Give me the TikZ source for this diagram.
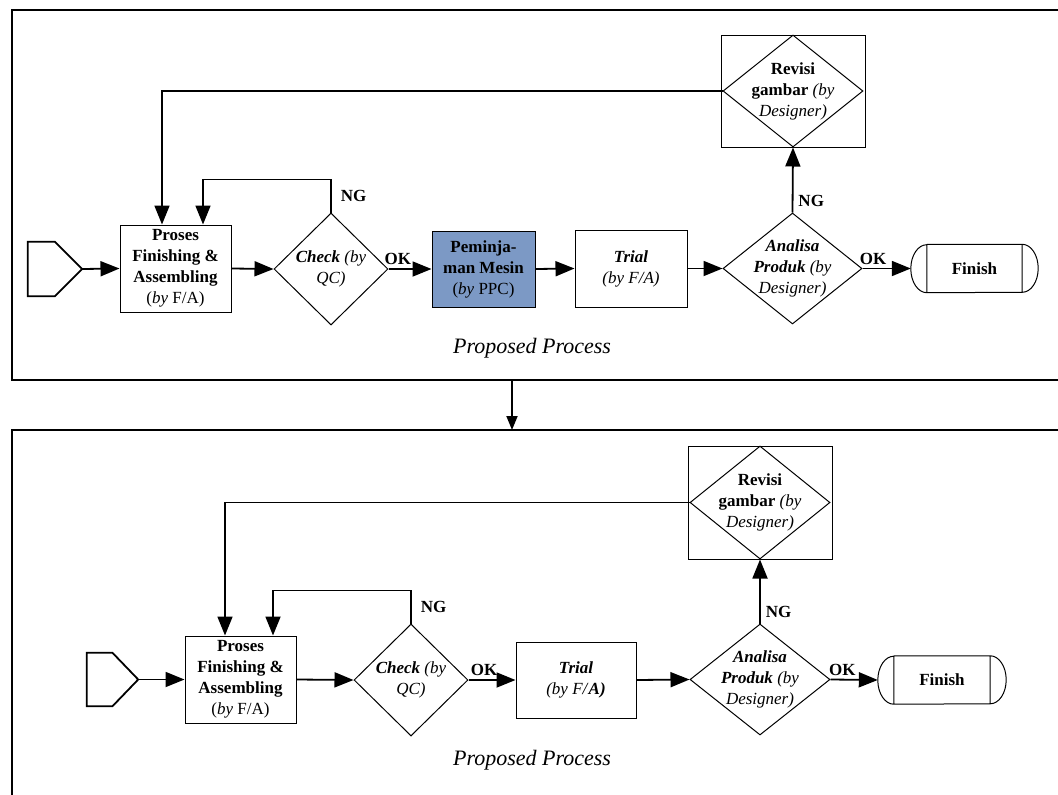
\documentclass[tikz,border=0pt]{standalone}
\usepackage{fontspec}
\setmainfont{Liberation Serif}
\usetikzlibrary{shapes.geometric,arrows.meta}
\definecolor{pmblue}{RGB}{124,153,197}

\begin{document}
\begin{tikzpicture}[x=1pt,y=-1pt,
  font=\fontsize{17}{21}\selectfont,
  box/.style={draw,line width=1pt,rectangle,inner sep=0pt,align=center},
  dec/.style={draw,line width=1pt,diamond,inner sep=0pt},
  dectxt/.style={align=center,inner sep=0pt},
  conn/.style={line width=1.8pt,-{Triangle[length=19pt,width=15pt]}},
  lbl/.style={font=\fontsize{17}{21}\selectfont\bfseries,inner sep=1pt},
  frame/.style={line width=2pt}]
  \useasboundingbox (0,0) rectangle (1058,795);

  % frames
  \draw[frame] (1058,10) -- (12,10) -- (12,380) -- (1058,380);
  \draw[frame] (1058,430) -- (12,430) -- (12,795);
  \coordinate (tp) at (512,380);
  \coordinate (bt) at (512,430);
  \draw[line width=1.8pt,-{Triangle[length=14pt,width=11pt]}] (tp) -- (bt);

  % upper process
  \node[inner sep=0pt,minimum width=54,minimum height=54] (st1) at (55,269) {};
  \node[box,minimum width=111,minimum height=87] (pr1) at (175.5,268.5)
    {\textbf{Proses}\\\textbf{Finishing \&}\\\textbf{Assembling}\\(\textit{by} F/A)};
  \node[dec,minimum width=114,minimum height=112,
    label={[dectxt,name=ck1t]center:{\textbf{\textit{Check}} \textit{(by}\\\textit{QC)}}}] (ck1) at (331,269) {};
  \node[box,fill=pmblue,minimum width=103,minimum height=76] (pm1) at (483.5,269)
    {\textbf{Peminja-}\\\textbf{man Mesin}\\(\textit{by} PPC)};
  \node[box,minimum width=112,minimum height=77] (tr1) at (631,268.5)
    {\textbf{\textit{Trial}}\\\textit{(by F/A)}};
  \node[dec,minimum width=139,minimum height=111,
    label={[dectxt,name=an1t]center:{\textbf{\textit{Analisa}}\\\textbf{\textit{Produk}} \textit{(by}\\\textit{Designer)}}}] (an1) at (792.5,268.5) {};
  \node[box,minimum width=144,minimum height=112] (rvb1) at (793,91) {};
  \node[dec,minimum width=140,minimum height=112,
    label={[dectxt,name=rv1t]center:{\textbf{Revisi}\\\textbf{gambar} \textit{(by}\\\textit{Designer)}}}] (rv1) at (rvb1) {};
  \node[inner sep=0pt,minimum width=127,minimum height=48] (fin1) at (974.5,268.5) {\textbf{Finish}};
  \node[font=\fontsize{22}{26}\selectfont\itshape] (pp1) at (532,348) {Proposed Process};

  \draw[conn] (st1.east) -- (pr1.west);
  \draw[conn] (pr1.east) -- (ck1.west);
  \draw[conn] (ck1.east) -- node[lbl,pos=0.22,above=2pt] {OK} (pm1.west);
  \draw[conn] (pm1.east) -- (tr1.west);
  \draw[conn] (tr1.east) -- (an1.west);
  \draw[conn] (an1.east) -- node[lbl,pos=0.22,above=2pt] {OK} (fin1.west);
  \draw[conn] (an1.north) -- node[lbl,pos=0.18,right=4pt] {NG} (rv1.south);
  \draw[conn] (ck1.north) -- node[lbl,right=8pt] {NG} ++(0,-33) -| ([xshift=27.5pt]pr1.north);
  \draw[conn] (rv1.west) -| ([xshift=-13.5pt]pr1.north);

  % lower process
  \node[inner sep=0pt,minimum width=51,minimum height=53] (st2) at (112.5,679.5) {};
  \node[box,minimum width=111,minimum height=87] (pr2) at (240.5,679.5)
    {\textbf{Proses}\\\textbf{Finishing \&}\\\textbf{Assembling}\\(\textit{by} F/A)};
  \node[dec,minimum width=114,minimum height=112,
    label={[dectxt,name=ck2t]center:{\textbf{\textit{Check}} \textit{(by}\\\textit{QC)}}}] (ck2) at (411,680) {};
  \node[box,minimum width=120,minimum height=76] (tr2) at (576,680)
    {\textbf{\textit{Trial}}\\\textit{(by F/}\textbf{\textit{A)}}};
  \node[dec,minimum width=140,minimum height=111,
    label={[dectxt,name=an2t]center:{\textbf{\textit{Analisa}}\\\textbf{\textit{Produk}} \textit{(by}\\\textit{Designer)}}}] (an2) at (760,679.5) {};
  \node[box,minimum width=144,minimum height=113] (rvb2) at (760,502.5) {};
  \node[dec,minimum width=140,minimum height=113,
    label={[dectxt,name=rv2t]center:{\textbf{Revisi}\\\textbf{gambar} \textit{(by}\\\textit{Designer)}}}] (rv2) at (rvb2) {};
  \node[inner sep=0pt,minimum width=128,minimum height=48] (fin2) at (942,680) {\textbf{Finish}};
  \node[font=\fontsize{22}{26}\selectfont\itshape] (pp2) at (532,760) {Proposed Process};

  \draw[conn] (st2.east) -- (pr2.west);
  \draw[conn] (pr2.east) -- (ck2.west);
  \draw[conn] (ck2.east) -- node[lbl,pos=0.33,above=2pt] {OK} (tr2.west);
  \draw[conn] (tr2.east) -- (an2.west);
  \draw[conn] (an2.east) -- node[lbl,pos=0.25,above=2pt] {OK} (fin2.west);
  \draw[conn] (an2.north) -- node[lbl,pos=0.18,right=4pt] {NG} (rv2.south);
  \draw[conn] (ck2.north) -- node[lbl,right=8pt] {NG} ++(0,-33) -| ([xshift=32.5pt]pr2.north);
  \draw[conn] (rv2.west) -| ([xshift=-15.5pt]pr2.north);

  \foreach \s in {st1,st2}
    \draw[line width=1.8pt] (\s.north west) -- (\s.north) -- (\s.east) -- (\s.south) -- (\s.south west) -- cycle;
  \foreach \f in {fin1,fin2}
    \draw[line width=1pt] ([xshift=16pt]\f.north west) -- ([xshift=-16pt]\f.north east)
      arc[start angle=90,end angle=-90,x radius=16pt,y radius=24pt]
      -- ([xshift=16pt]\f.south west)
      arc[start angle=270,end angle=90,x radius=16pt,y radius=24pt]
      ([xshift=16pt]\f.north west) -- ([xshift=16pt]\f.south west)
      ([xshift=-16pt]\f.north east) -- ([xshift=-16pt]\f.south east);
\end{tikzpicture}
\end{document}
